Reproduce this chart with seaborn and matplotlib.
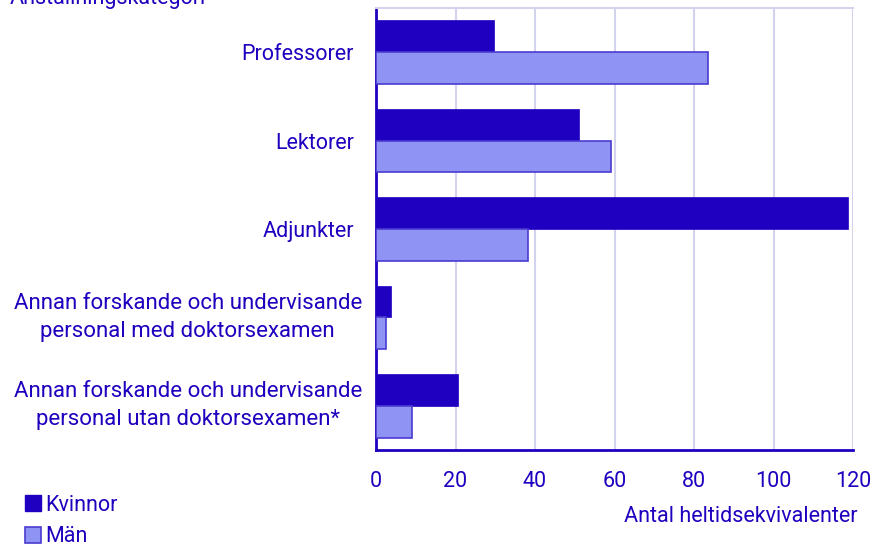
import matplotlib
matplotlib.use("Agg")
import matplotlib.pyplot as plt
import seaborn as sns
import pandas as pd
from matplotlib.patches import Patch

categories = [
    "Professorer",
    "Lektorer",
    "Adjunkter",
    "Annan forskande och undervisande\npersonal med doktorsexamen",
    "Annan forskande och undervisande\npersonal utan doktorsexamen*",
]
kvinnor = [29.7, 51.1, 118.7, 3.8, 20.6]
man = [83.5, 59.1, 38.2, 2.5, 9.1]
series = ["Kvinnor", "Män"]
x_ticks = [0, 20, 40, 60, 80, 100, 120]

TEXT = "#1f00bf"
DARK = "#2000c0"
LIGHT = "#8f93f3"
EDGE = "#4a3bd0"
GRID = "#d3d3ee"
FS = 15.5

df = pd.DataFrame({
    "Kategori": categories * 2,
    "Kön": [series[0]] * len(categories) + [series[1]] * len(categories),
    "Värde": kvinnor + man,
})

sns.set_theme(style="white")
plt.rcParams["font.family"] = ["Roboto", "DejaVu Sans"]

fig = plt.figure(figsize=(8.75, 5.47), dpi=100)
ax = fig.add_axes([376 / 875, 1 - 450 / 547, 477 / 875, 442 / 547])

sns.barplot(data=df, y="Kategori", x="Värde", hue="Kön", order=categories,
            hue_order=series, palette=[DARK, LIGHT], saturation=1, orient="h",
            width=0.72, ax=ax, legend=False, zorder=3)

for bar in ax.patches:
    if bar.get_facecolor()[:3] == matplotlib.colors.to_rgb(LIGHT):
        bar.set_edgecolor(EDGE)
        bar.set_linewidth(1.2)
    else:
        bar.set_edgecolor(DARK)
        bar.set_linewidth(0.5)

ax.set_xlim(0, 120)
ax.set_xticks(x_ticks)
ax.set_xticklabels([str(t) for t in x_ticks], color=TEXT, fontsize=FS)
ax.tick_params(axis="x", direction="out", length=6, width=2, color=DARK, pad=9)
ax.tick_params(axis="y", length=0, pad=0)
for lbl in ax.get_yticklabels():
    multi = "\n" in lbl.get_text()
    lbl.set_color(TEXT)
    lbl.set_fontsize(16 if multi else FS)
    lbl.set_horizontalalignment("right")
    lbl.set_verticalalignment("center" if multi else "center_baseline")
    lbl.set_multialignment("center")
    lbl.set_linespacing(1.42)
    lbl.set_x(-14 / 477 if multi else -22 / 477)

ax.grid(axis="x", color=GRID, linewidth=1.5, zorder=0)
ax.set_ylabel("")
ax.set_xlabel("")

ax.spines["left"].set_color(DARK)
ax.spines["left"].set_linewidth(2)
ax.spines["bottom"].set_color(DARK)
ax.spines["bottom"].set_linewidth(2)
ax.spines["top"].set_color(GRID)
ax.spines["top"].set_linewidth(1.5)
ax.spines["right"].set_visible(False)

fig.text(858 / 875, 1 - 516 / 547, "Antal heltidsekvivalenter", ha="right",
         va="center", color=TEXT, fontsize=FS)
fig.text(10 / 875, 1 - 4 / 547, "Anställningskategori", ha="left",
         va="baseline", color=TEXT, fontsize=FS)

handles = [Patch(facecolor=DARK, edgecolor=DARK),
           Patch(facecolor=LIGHT, edgecolor=EDGE, linewidth=1.2)]
fig.legend(handles, series, loc="lower left", bbox_to_anchor=(0.006, -0.036),
           frameon=False, fontsize=FS, handlelength=0.75, handleheight=0.75,
           handletextpad=0.2, labelspacing=0.5, labelcolor=TEXT)

fig.savefig("out.png", dpi=100)
